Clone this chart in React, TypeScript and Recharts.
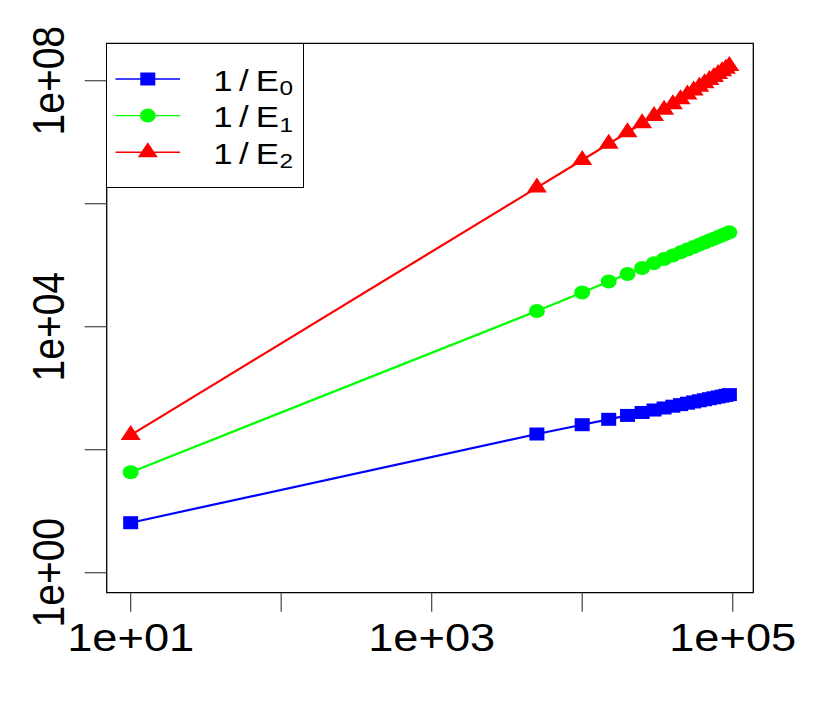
import React from 'react';
import { LineChart, Line, XAxis, YAxis, ReferenceArea, Legend } from 'recharts';

// ---- data ----
const X_VALUES = [10, 5000, 10000, 15000, 20000, 25000, 30000, 35000, 40000, 45000, 50000,
  55000, 60000, 65000, 70000, 75000, 80000, 85000, 90000, 95000];
const INV_E0 = [6.5, 180, 255, 312, 361, 403, 442, 477, 510, 541, 570,
  598, 625, 650, 675, 698, 721, 743, 765, 786];
const INV_E1 = [43, 18000, 36000, 54500, 72000, 90000, 108000, 126000, 144000, 162000, 180000,
  198000, 216000, 234000, 252000, 270000, 288000, 306000, 324000, 342000];
const INV_E2 = [173, 1.83e6, 5.14e6, 9.4e6, 1.45e7, 2.03e7, 2.67e7, 3.36e7, 4.16e7, 5.02e7, 5.95e7,
  6.94e7, 8.0e7, 9.11e7, 1.03e8, 1.154e8, 1.285e8, 1.422e8, 1.566e8, 1.728e8];

const SERIES_KEYS = ['e0', 'e1', 'e2'];
const SERIES_COLORS = ['#0000ff', '#00ff00', '#ff0000'];
const SERIES_SUBS = ['0', '1', '2'];

const X_TICKS = [10, 100, 1000, 10000, 100000];
const X_TICK_LABELS = ['1e+01', '', '1e+03', '', '1e+05'];
const Y_TICKS = [1, 100, 10000, 1000000, 100000000];
const Y_TICK_LABELS = ['1e+00', '', '1e+04', '', '1e+08'];

const X_DOMAIN = [6.93, 137000];
const Y_DOMAIN = [0.473, 4.06e8];

const data = X_VALUES.map((x, i) => ({ x, e0: INV_E0[i], e1: INV_E1[i], e2: INV_E2[i] }));

const FONT = '"Liberation Sans", Arial, Helvetica, sans-serif';
const SX = 1.16;

// ---- markers ----
function Marker({ kind, cx, cy, color }: { kind: number; cx: number; cy: number; color: string }) {
  if (kind === 0) return <rect x={cx - 7.5} y={cy - 6.5} width={15} height={13} fill={color} />;
  if (kind === 1) return <ellipse cx={cx} cy={cy} rx={8} ry={7} fill={color} />;
  return (
    <polygon
      points={`${cx},${cy - 10} ${cx + 10},${cy + 5} ${cx - 10},${cy + 5}`}
      fill={color}
    />
  );
}

const makeDot = (kind: number, color: string) => (p: any) => {
  if (p == null || p.cx == null || p.cy == null) return <g key={`n${kind}-${p?.index}`} />;
  return (
    <g key={`d${kind}-${p.index}`}>
      <Marker kind={kind} cx={p.cx} cy={p.cy} color={color} />
    </g>
  );
};

// ---- ticks ----
const XTick = (props: any) => {
  const { x, payload } = props;
  const idx = X_TICKS.indexOf(payload.value);
  const label = idx >= 0 ? X_TICK_LABELS[idx] : '';
  if (!label) return <g />;
  return (
    <text
      transform={`translate(${x},651) scale(${SX},1)`}
      textAnchor="middle"
      fontSize={39}
      fontFamily={FONT}
      fill="#000"
    >
      {label}
    </text>
  );
};

const YTick = (props: any) => {
  const { y, payload } = props;
  const idx = Y_TICKS.indexOf(payload.value);
  const label = idx >= 0 ? Y_TICK_LABELS[idx] : '';
  if (!label) return <g />;
  return (
    <text
      transform={`translate(64,${y}) scale(${SX},1) rotate(-90)`}
      textAnchor="middle"
      fontSize={39}
      fontFamily={FONT}
      fill="#000"
    >
      {label}
    </text>
  );
};

// ---- legend ----
const LegendBox = (props: any) => {
  const payload = props.payload || [];
  return (
    <div
      style={{
        width: 198,
        height: 145,
        border: '1.3px solid #000',
        boxSizing: 'border-box',
        background: '#fff',
      }}
    >
      <svg width={196} height={143} style={{ display: 'block' }}>
        {payload.map((entry: any, i: number) => {
          const k = SERIES_KEYS.indexOf(entry.dataKey);
          const cy = 35 + 36.6 * i;
          const color = SERIES_COLORS[k];
          return (
            <g key={entry.dataKey}>
              <line x1={8.5} x2={73} y1={cy} y2={cy} stroke={color} strokeWidth={1.4} />
              <Marker kind={k} cx={40.8} cy={cy} color={color} />
              <text
                transform={`translate(106.3,${cy + 11.5}) scale(${SX},1)`}
                fontSize={30}
                fontFamily={FONT}
                fill="#000"
              >
                <tspan>1</tspan>
                <tspan dx={5.5}>/</tspan>
                <tspan dx={6}>E</tspan>
                <tspan dx={0.5} dy={4.5} fontSize={21}>{SERIES_SUBS[k]}</tspan>
              </text>
            </g>
          );
        })}
      </svg>
    </div>
  );
};

export default function App() {
  return (
    <div style={{ position: 'absolute', left: 0, top: 0, width: 830, height: 706, background: '#fff' }}>
      <LineChart
        width={830}
        height={706}
        data={data}
        margin={{ top: 43.3, right: 76.7, bottom: 0, left: 0 }}
      >
        <XAxis
          dataKey="x"
          type="number"
          scale="log"
          domain={X_DOMAIN}
          allowDataOverflow
          ticks={X_TICKS}
          interval={0}
          axisLine={false}
          tickLine={{ stroke: '#444', strokeWidth: 1.2 }}
          tickSize={19}
          height={113.3}
          tick={<XTick />}
        />
        <YAxis
          type="number"
          scale="log"
          domain={Y_DOMAIN}
          allowDataOverflow
          ticks={Y_TICKS}
          interval={0}
          axisLine={false}
          tickLine={{ stroke: '#444', strokeWidth: 1.2 }}
          tickSize={22}
          width={106.7}
          tick={<YTick />}
        />
        <ReferenceArea
          x1={X_DOMAIN[0]}
          x2={X_DOMAIN[1]}
          y1={Y_DOMAIN[0]}
          y2={Y_DOMAIN[1]}
          fill="none"
          stroke="#000"
          strokeWidth={1.3}
          ifOverflow="visible"
        />
        {SERIES_KEYS.map((key, k) => (
          <Line
            key={key}
            dataKey={key}
            type="linear"
            stroke={SERIES_COLORS[k]}
            strokeWidth={2.2}
            dot={makeDot(k, SERIES_COLORS[k])}
            activeDot={false}
            isAnimationActive={false}
          />
        ))}
        <Legend
          layout="vertical"
          align="center"
          verticalAlign="middle"
          content={<LegendBox />}
          wrapperStyle={{ left: 106.2, top: 42.7, width: 198, height: 145, right: 'auto', bottom: 'auto' }}
        />
      </LineChart>
    </div>
  );
}
